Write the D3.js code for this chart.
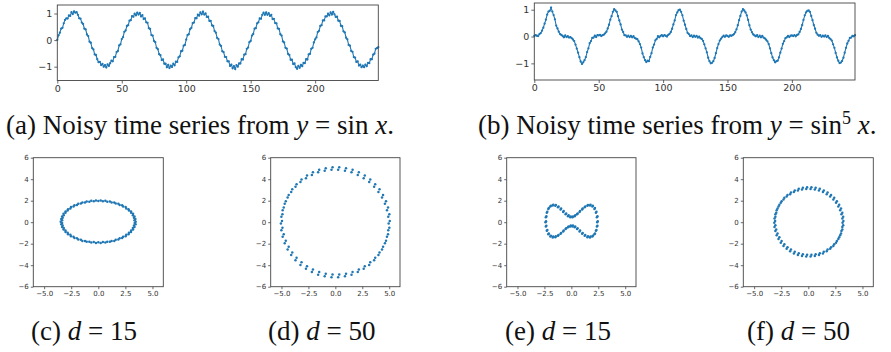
<!DOCTYPE html>
<html>
<head>
<meta charset="utf-8">
<script src="https://cdn.jsdelivr.net/npm/d3@7"></script>
<style>
  body { margin: 0; background: #fff; }
  svg { display: block; }
  .tick text { font-family: "DejaVu Sans", sans-serif; fill: #333; }
  .cap { font-family: "Liberation Serif", "Times New Roman", serif; fill: #111; white-space: pre; }
</style>
</head>
<body>
<svg id="fig" width="891" height="352"></svg>
<script>
// ---- data ----

// (a) noisy y = sin x, 250 samples
const sinSeries = [
  0.01,0.18,0.28,0.43,0.46,0.63,0.76,0.82,0.81,0.93,0.91,1.05,0.98,1.08,1.03,1.05,0.95,0.82,0.81,0.66,
  0.61,0.43,0.40,0.21,0.15,-0.06,-0.10,-0.30,-0.35,-0.54,-0.56,-0.72,-0.83,-0.82,-0.94,-0.90,-1.00,-0.94,-1.03,-0.91,
  -0.97,-0.87,-0.77,-0.80,-0.64,-0.63,-0.45,-0.41,-0.20,-0.16,
  0.04,0.11,0.31,0.36,0.53,0.56,0.73,0.75,0.90,0.88,0.99,0.93,1.03,0.96,1.02,0.89,0.94,0.79,0.82,0.67,
  0.65,0.45,0.42,0.19,0.17,-0.03,-0.08,-0.29,-0.34,-0.53,-0.57,-0.75,-0.73,-0.89,-0.89,-1.02,-0.93,-1.05,-0.96,-1.01,
  -0.89,-0.95,-0.81,-0.82,-0.65,-0.61,-0.42,-0.40,-0.21,-0.18,
  0.02,0.19,0.22,0.41,0.46,0.64,0.66,0.83,0.82,0.96,0.92,1.04,0.97,1.07,0.96,1.00,0.87,0.88,0.72,0.72,
  0.55,0.53,0.34,0.28,0.08,0.04,-0.17,-0.22,-0.42,-0.45,-0.63,-0.64,-0.80,-0.80,-0.97,-0.92,-1.06,-0.98,-1.09,-0.94,
  -1.00,-0.88,-0.88,-0.72,-0.73,-0.55,-0.53,-0.33,-0.28,-0.08,
  -0.03,0.17,0.23,0.43,0.45,0.63,0.67,0.82,0.80,0.95,1.03,0.95,1.04,0.95,1.01,0.91,0.95,0.79,0.80,0.64,
  0.63,0.44,0.42,0.22,0.17,-0.05,-0.09,-0.29,-0.32,-0.52,-0.56,-0.74,-0.74,-0.90,-0.88,-1.02,-1.08,-0.97,-1.04,-0.93,
  -0.98,-0.86,-0.87,-0.72,-0.73,-0.54,-0.52,-0.33,-0.29,-0.09,
  0.03,0.10,0.30,0.35,0.53,0.56,0.74,0.74,0.89,0.89,0.99,0.93,1.04,0.96,1.06,0.97,0.87,0.88,0.73,0.72,
  0.54,0.52,0.33,0.29,0.09,0.03,-0.18,-0.21,-0.41,-0.44,-0.64,-0.66,-0.82,-0.80,-0.96,-0.92,-1.02,-0.96,-1.02,-0.92,
  -0.98,-0.86,-0.87,-0.72,-0.72,-0.55,-0.51,-0.33,-0.30,-0.27
];

// (b) noisy y = sin^5 x, 250 samples
const sin5Series = [
  0.02,0.05,0.03,0.02,0.09,0.13,0.22,0.33,0.48,0.63,0.82,0.93,0.96,1.08,0.93,0.80,0.64,0.41,0.30,0.18,
  0.09,0.06,0.02,-0.03,0.04,-0.02,0.01,-0.04,-0.02,-0.06,-0.11,-0.17,-0.30,-0.45,-0.60,-0.77,-0.93,-1.02,-0.96,-0.88,
  -0.77,-0.58,-0.44,-0.25,-0.17,-0.05,-0.04,0.03,-0.02,0.05,
  0.04,0.06,0.02,0.05,0.07,0.12,0.18,0.30,0.44,0.63,0.76,0.92,1.02,0.97,0.92,0.76,0.60,0.45,0.26,0.17,
  0.05,0.04,-0.01,0.03,-0.02,0.02,-0.03,0.01,-0.05,-0.08,-0.10,-0.18,-0.28,-0.41,-0.63,-0.77,-0.88,-0.95,-0.90,-0.92,
  -0.76,-0.62,-0.41,-0.30,-0.14,-0.09,0.01,-0.03,0.02,0.05,
  0.01,0.05,0.03,0.00,0.06,0.10,0.17,0.29,0.45,0.60,0.80,0.90,0.98,1.00,0.92,0.79,0.59,0.44,0.28,0.14,
  0.09,0.02,0.04,-0.02,0.03,-0.01,0.02,-0.04,0.00,-0.06,-0.09,-0.16,-0.29,-0.44,-0.59,-0.79,-0.92,-1.00,-0.98,-0.92,
  -0.80,-0.62,-0.43,-0.28,-0.15,-0.08,-0.02,0.03,-0.01,0.04,
  0.02,-0.01,0.04,0.03,0.05,0.09,0.16,0.27,0.42,0.61,0.77,0.93,1.02,0.97,0.90,0.79,0.62,0.42,0.26,0.16,
  0.08,0.04,0.01,0.05,-0.02,0.03,-0.03,0.02,-0.04,-0.07,-0.12,-0.18,-0.28,-0.44,-0.62,-0.78,-0.88,-0.96,-0.92,-0.90,
  -0.78,-0.60,-0.45,-0.27,-0.17,-0.06,-0.03,0.02,-0.02,0.03,
  0.04,0.02,0.05,0.01,0.06,0.08,0.17,0.28,0.43,0.62,0.79,0.90,0.96,0.97,0.92,0.77,0.61,0.43,0.29,0.14,
  0.07,0.03,0.05,-0.01,0.03,0.00,0.04,-0.02,0.02,-0.05,-0.10,-0.15,-0.29,-0.42,-0.61,-0.78,-0.90,-0.99,-0.97,-0.91,
  -0.79,-0.60,-0.42,-0.26,-0.16,-0.05,-0.04,0.02,0.01,0.05
];

// (c) sin x, d = 15 embedding
const embC_x = [
  3.45,3.42,3.34,3.21,3.02,2.79,2.52,2.20,1.85,1.47,1.07,0.65,0.22,-0.22,-0.65,-1.07,-1.47,-1.85,-2.20,-2.52,
  -2.79,-3.02,-3.21,-3.34,-3.42,-3.47,-3.42,-3.34,-3.21,-3.02,-2.79,-2.52,-2.20,-1.85,-1.47,-1.07,-0.65,-0.22,0.22,0.65,
  1.07,1.47,1.85,2.20,2.52,2.79,3.02,3.21,3.34,3.44,
  3.34,3.29,3.19,3.03,2.83,2.58,2.29,1.97,1.61,1.23,0.83,0.42,0.00,-0.42,-0.83,-1.23,-1.61,-1.97,-2.29,-2.58,
  -2.83,-3.03,-3.19,-3.29,-3.34,-3.34,-3.29,-3.19,-3.03,-2.83,-2.58,-2.29,-1.97,-1.61,-1.23,-0.83,-0.42,0.00,0.42,0.83,
  1.23,1.61,1.97,2.29,2.58,2.83,3.03,3.19,3.29,3.36
];
const embC_y = [
  0.05,0.30,0.54,0.78,1.00,1.21,1.41,1.58,1.72,1.84,1.93,1.99,2.03,2.03,1.99,1.93,1.84,1.72,1.58,1.41,
  1.21,1.00,0.78,0.54,0.30,0.05,-0.20,-0.44,-0.68,-0.90,-1.11,-1.31,-1.48,-1.62,-1.74,-1.83,-1.89,-1.93,-1.93,-1.89,
  -1.83,-1.74,-1.62,-1.48,-1.31,-1.11,-0.90,-0.68,-0.44,-0.20,
  0.17,0.41,0.64,0.87,1.08,1.27,1.45,1.60,1.73,1.84,1.91,1.95,1.97,1.95,1.91,1.84,1.73,1.60,1.45,1.27,
  1.08,0.87,0.64,0.41,0.17,-0.07,-0.31,-0.54,-0.77,-0.98,-1.17,-1.35,-1.50,-1.63,-1.74,-1.81,-1.85,-1.87,-1.85,-1.81,
  -1.74,-1.63,-1.50,-1.35,-1.17,-0.98,-0.77,-0.54,-0.31,-0.07
];

// (d) sin x, d = 50 embedding
const embD_x = [
  4.95,4.91,4.79,4.60,4.33,4.00,3.60,3.14,2.63,2.08,1.50,0.89,0.26,-0.36,-0.99,-1.60,-2.18,-2.73,-3.24,-3.70,
  -4.10,-4.43,-4.70,-4.89,-5.01,-5.05,-5.01,-4.89,-4.70,-4.43,-4.10,-3.70,-3.24,-2.73,-2.18,-1.60,-0.99,-0.36,0.26,0.89,
  1.50,2.08,2.63,3.14,3.60,4.00,4.33,4.60,4.79,4.91,
  5.05,5.01,4.89,4.70,4.43,4.10,3.70,3.24,2.73,2.18,1.60,0.99,0.36,-0.26,-0.89,-1.50,-2.08,-2.63,-3.14,-3.60,
  -4.00,-4.33,-4.60,-4.79,-4.91,-4.95,-4.91,-4.79,-4.60,-4.33,-4.00,-3.60,-3.14,-2.63,-2.08,-1.50,-0.89,-0.26,0.36,0.99,
  1.60,2.18,2.73,3.24,3.70,4.10,4.43,4.70,4.89,5.01
];
const embD_y = [
  -0.12,0.51,1.12,1.72,2.29,2.82,3.30,3.73,4.10,4.40,4.64,4.79,4.87,4.87,4.79,4.64,4.40,4.10,3.73,3.30,
  2.82,2.29,1.72,1.12,0.51,-0.12,-0.75,-1.36,-1.96,-2.53,-3.06,-3.54,-3.97,-4.34,-4.64,-4.88,-5.03,-5.11,-5.11,-5.03,
  -4.88,-4.64,-4.34,-3.97,-3.54,-3.06,-2.53,-1.96,-1.36,-0.75,
  0.12,0.75,1.36,1.96,2.53,3.06,3.54,3.97,4.34,4.64,4.88,5.03,5.11,5.11,5.03,4.88,4.64,4.34,3.97,3.54,
  3.06,2.53,1.96,1.36,0.75,0.12,-0.51,-1.12,-1.72,-2.29,-2.82,-3.30,-3.73,-4.10,-4.40,-4.64,-4.79,-4.87,-4.87,-4.79,
  -4.64,-4.40,-4.10,-3.73,-3.30,-2.82,-2.29,-1.72,-1.12,-0.51
];

// (e) sin^5 x, d = 15 embedding
const embE_x = [
  2.40,2.37,2.28,2.14,1.95,1.73,1.49,1.24,1.00,0.76,0.53,0.31,0.10,-0.10,-0.31,-0.53,-0.76,-1.00,-1.24,-1.49,
  -1.73,-1.95,-2.14,-2.28,-2.37,-2.40,-2.37,-2.28,-2.14,-1.95,-1.73,-1.49,-1.24,-1.00,-0.76,-0.53,-0.31,-0.10,0.10,0.31,
  0.53,0.76,1.00,1.24,1.49,1.73,1.95,2.14,2.28,2.37,
  2.45,2.42,2.33,2.19,2.00,1.78,1.54,1.29,1.05,0.81,0.58,0.36,0.15,-0.05,-0.26,-0.48,-0.71,-0.95,-1.19,-1.44,
  -1.68,-1.90,-2.09,-2.23,-2.32,-2.35,-2.32,-2.23,-2.09,-1.90,-1.68,-1.44,-1.19,-0.95,-0.71,-0.48,-0.26,-0.05,0.15,0.36,
  0.58,0.81,1.05,1.29,1.54,1.78,2.00,2.19,2.33,2.42
];
const embE_y = [
  0.00,0.47,0.89,1.23,1.45,1.55,1.52,1.39,1.19,0.96,0.73,0.56,0.46,0.46,0.56,0.73,0.96,1.19,1.39,1.52,
  1.55,1.45,1.23,0.89,0.47,0.00,-0.40,-0.80,-1.12,-1.33,-1.42,-1.39,-1.27,-1.08,-0.86,-0.64,-0.48,-0.39,-0.39,-0.48,
  -0.64,-0.86,-1.08,-1.27,-1.39,-1.42,-1.33,-1.12,-0.80,-0.40,
  0.08,0.55,0.97,1.31,1.53,1.63,1.60,1.47,1.27,1.04,0.81,0.64,0.54,0.54,0.64,0.81,1.04,1.27,1.47,1.60,
  1.63,1.53,1.31,0.97,0.55,0.08,-0.32,-0.72,-1.04,-1.25,-1.34,-1.31,-1.19,-1.00,-0.78,-0.56,-0.40,-0.31,-0.31,-0.40,
  -0.56,-0.78,-1.00,-1.19,-1.31,-1.34,-1.25,-1.04,-0.72,-0.32
];

// (f) sin^5 x, d = 50 embedding
const embF_x = [
  3.16,3.14,3.06,2.94,2.77,2.56,2.31,2.02,1.70,1.35,0.98,0.60,0.21,-0.19,-0.58,-0.96,-1.33,-1.68,-2.00,-2.29,
  -2.54,-2.75,-2.92,-3.04,-3.12,-3.14,-3.12,-3.04,-2.92,-2.75,-2.54,-2.29,-2.00,-1.68,-1.33,-0.96,-0.58,-0.19,0.21,0.60,
  0.98,1.35,1.70,2.02,2.31,2.56,2.77,2.94,3.06,3.14,
  3.24,3.22,3.14,3.02,2.85,2.64,2.39,2.10,1.78,1.43,1.06,0.68,0.29,-0.11,-0.50,-0.88,-1.25,-1.60,-1.92,-2.21,
  -2.46,-2.67,-2.84,-2.96,-3.04,-3.06,-3.04,-2.96,-2.84,-2.67,-2.46,-2.21,-1.92,-1.60,-1.25,-0.88,-0.50,-0.11,0.29,0.68,
  1.06,1.43,1.78,2.10,2.39,2.64,2.85,3.02,3.14,3.22
];
const embF_y = [
  -0.05,0.34,0.73,1.11,1.47,1.80,2.11,2.38,2.61,2.80,2.95,3.04,3.09,3.09,3.04,2.95,2.80,2.61,2.38,2.11,
  1.80,1.47,1.11,0.73,0.34,-0.05,-0.44,-0.83,-1.21,-1.57,-1.90,-2.21,-2.48,-2.71,-2.90,-3.05,-3.14,-3.19,-3.19,-3.14,
  -3.05,-2.90,-2.71,-2.48,-2.21,-1.90,-1.57,-1.21,-0.83,-0.44,
  0.11,0.50,0.89,1.27,1.63,1.96,2.27,2.54,2.77,2.96,3.11,3.20,3.25,3.25,3.20,3.11,2.96,2.77,2.54,2.27,
  1.96,1.63,1.27,0.89,0.50,0.11,-0.28,-0.67,-1.05,-1.41,-1.74,-2.05,-2.32,-2.55,-2.74,-2.89,-2.98,-3.03,-3.03,-2.98,
  -2.89,-2.74,-2.55,-2.32,-2.05,-1.74,-1.41,-1.05,-0.67,-0.28
];

// tick labels
const tsTicksX = [0, 50, 100, 150, 200];
const tsTicksY = [-1, 0, 1];
const scTicksX = [-5, -2.5, 0, 2.5, 5];
const scTicksY = [-6, -4, -2, 0, 2, 4, 6];

// ---- drawing ----
const blue = "#1f77b4";
const svg = d3.select("#fig");
svg.append("rect").attr("width", 891).attr("height", 352).attr("fill", "#fff");

function styleAxis(g, size) {
  g.select(".domain").remove();
  g.selectAll(".tick line").attr("stroke", "#444").attr("stroke-width", 0.8);
  g.selectAll(".tick text").attr("font-size", size);
}

function frame(box) {
  svg.append("rect")
    .attr("x", box.l).attr("y", box.t)
    .attr("width", box.r - box.l).attr("height", box.b - box.t)
    .attr("fill", "none").attr("stroke", "#444").attr("stroke-width", 0.9);
}

function timePanel(vals, box, yDom) {
  const x = d3.scaleLinear().domain([0, vals.length - 1]).range([box.l, box.r]);
  const y = d3.scaleLinear().domain(yDom).range([box.b, box.t]);

  const ax = svg.append("g").attr("transform", `translate(0,${box.b})`)
    .call(d3.axisBottom(x).tickValues(tsTicksX).tickFormat(d3.format("d")).tickSize(3).tickPadding(1.5));
  styleAxis(ax, 9.5);
  const ay = svg.append("g").attr("transform", `translate(${box.l},0)`)
    .call(d3.axisLeft(y).tickValues(tsTicksY).tickFormat(d3.format("d")).tickSize(3).tickPadding(2));
  styleAxis(ay, 9.5);

  const line = d3.line().x((d, i) => x(i)).y(d => y(d));
  svg.append("path").datum(vals)
    .attr("d", line).attr("fill", "none")
    .attr("stroke", blue).attr("stroke-width", 1.1);
  svg.append("g").selectAll("circle").data(vals).join("circle")
    .attr("cx", (d, i) => x(i)).attr("cy", d => y(d))
    .attr("r", 1.15).attr("fill", blue);
  frame(box);
}

function scatterPanel(xs, ys, box) {
  const x = d3.scaleLinear().domain([-6, 6]).range([box.l, box.r]);
  const y = d3.scaleLinear().domain([-6, 6]).range([box.b, box.t]);

  const ax = svg.append("g").attr("transform", `translate(0,${box.b})`)
    .call(d3.axisBottom(x).tickValues(scTicksX).tickFormat(d3.format(".1f")).tickSize(2.5).tickPadding(1.5));
  styleAxis(ax, 7);
  const ay = svg.append("g").attr("transform", `translate(${box.l},0)`)
    .call(d3.axisLeft(y).tickValues(scTicksY).tickFormat(d3.format("d")).tickSize(2.5).tickPadding(2));
  styleAxis(ay, 7);

  svg.append("g").selectAll("circle").data(xs).join("circle")
    .attr("cx", d => x(d)).attr("cy", (d, i) => y(ys[i]))
    .attr("r", 1.25).attr("fill", blue);
  frame(box);
}

timePanel(sinSeries, { l: 57.3, r: 378.3, t: 5, b: 80.5 }, [-1.52, 1.32]);
timePanel(sin5Series, { l: 534.3, r: 855, t: 3, b: 80 }, [-1.62, 1.25]);

const scTop = 157.7, scBot = 286.7;
scatterPanel(embC_x, embC_y, { l: 33.3, r: 163.3, t: scTop, b: scBot });
scatterPanel(embD_x, embD_y, { l: 270.7, r: 400, t: scTop, b: scBot });
scatterPanel(embE_x, embE_y, { l: 506.7, r: 636, t: scTop, b: scBot });
scatterPanel(embF_x, embF_y, { l: 743.3, r: 873.3, t: scTop, b: scBot });

// ---- captions ----
function caption(x, y, parts) {
  const t = svg.append("text").attr("class", "cap").attr("x", x).attr("y", y).attr("font-size", 27);
  parts.forEach(p => {
    const s = t.append("tspan").text(p.t);
    if (p.i) s.attr("font-style", "italic");
    if (p.dy) s.attr("dy", p.dy);
    if (p.fs) s.attr("font-size", p.fs);
  });
}

caption(6, 134, [{ t: "(a) Noisy time series from " }, { t: "y", i: 1 }, { t: " = sin " }, { t: "x", i: 1 }, { t: "." }]);
caption(478, 134, [{ t: "(b) Noisy time series from " }, { t: "y", i: 1 }, { t: " = sin" },
  { t: "5", dy: -10, fs: 18 }, { t: " " , dy: 10 }, { t: "x", i: 1 }, { t: "." }]);
caption(31, 340, [{ t: "(c) " }, { t: "d", i: 1 }, { t: " = 15" }]);
caption(268, 340, [{ t: "(d) " }, { t: "d", i: 1 }, { t: " = 50" }]);
caption(505, 340, [{ t: "(e) " }, { t: "d", i: 1 }, { t: " = 15" }]);
caption(747, 340, [{ t: "(f) " }, { t: "d", i: 1 }, { t: " = 50" }]);
</script>
</body>
</html>
